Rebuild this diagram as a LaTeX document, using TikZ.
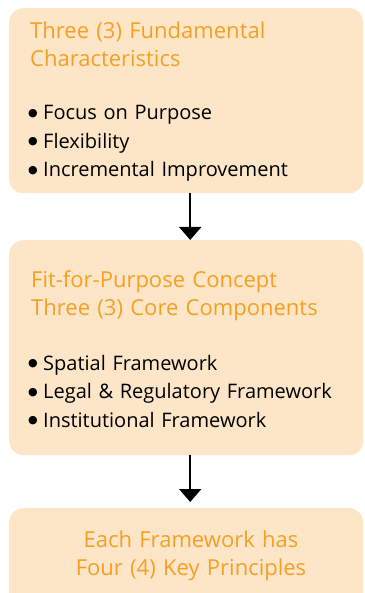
\documentclass[tikz,border=0pt]{standalone}
\usepackage{fontspec}
\setmainfont{Open Sans}
\newfontfamily\dotfont{DejaVu Sans}
\usetikzlibrary{positioning,arrows.meta}

\definecolor{boxfill}{HTML}{FDE5C8}
\definecolor{headorange}{HTML}{F5A023}
\newcommand{\itemdot}{\makebox[16pt][l]{\hspace{1pt}\raisebox{3.5pt}{\fontsize{11}{11}\dotfont ●}}}

\begin{document}
\begin{tikzpicture}[x=1pt,y=-1pt]
	\tikzset{stage/.style={fill=boxfill,rounded corners=14pt,anchor=north west,inner sep=0pt,minimum width=354pt}}
	\tikzset{heading/.style={text=headorange,font=\fontsize{22}{28}\selectfont,text width=335pt,align=left,inner sep=0pt}}
	\tikzset{bullets/.style={font=\fontsize{20}{28.5}\selectfont,text width=335pt,align=left,inner sep=0pt}}
	\tikzset{flow/.style={line width=1.8pt,-{Triangle[width=22pt,length=13pt]}}}

	\clip (0,0) rectangle (364,593);

	%% Boxes
	\node[stage,minimum height=185pt] (traits) at (9,8) {};
	\node[stage,minimum height=215pt] (core) at (9,240) {};
	\node[stage,minimum height=100pt] (keys) at (9,508) {};

	%% Headings and lists
	\node[heading,anchor=base west] (traitshead) at (30,39) {Three (3) Fundamental\\Characteristics};
	\node[bullets,anchor=base west] (traitslist) at (27,120) {\itemdot Focus on Purpose\\\itemdot Flexibility\\\itemdot Incremental Improvement};
	\node[heading,anchor=base west] (corehead) at (31,287) {Fit-for-Purpose Concept\\Three (3) Core Components};
	\node[bullets,anchor=base west] (corelist) at (27,370) {\itemdot Spatial Framework\\\itemdot Legal \& Regulatory Framework\\\itemdot Institutional Framework};
	\node[heading,align=center,anchor=base] (keyshead) at (191,547) {Each Framework has\\Four (4) Key Principles};

	%% Connectors
	\draw[flow] ([xshift=4pt]traits.south) -- ([xshift=4pt]core.north);
	\draw[flow,shorten >=6pt] ([xshift=4pt]core.south) -- ([xshift=4pt]keys.north);
\end{tikzpicture}
\end{document}
